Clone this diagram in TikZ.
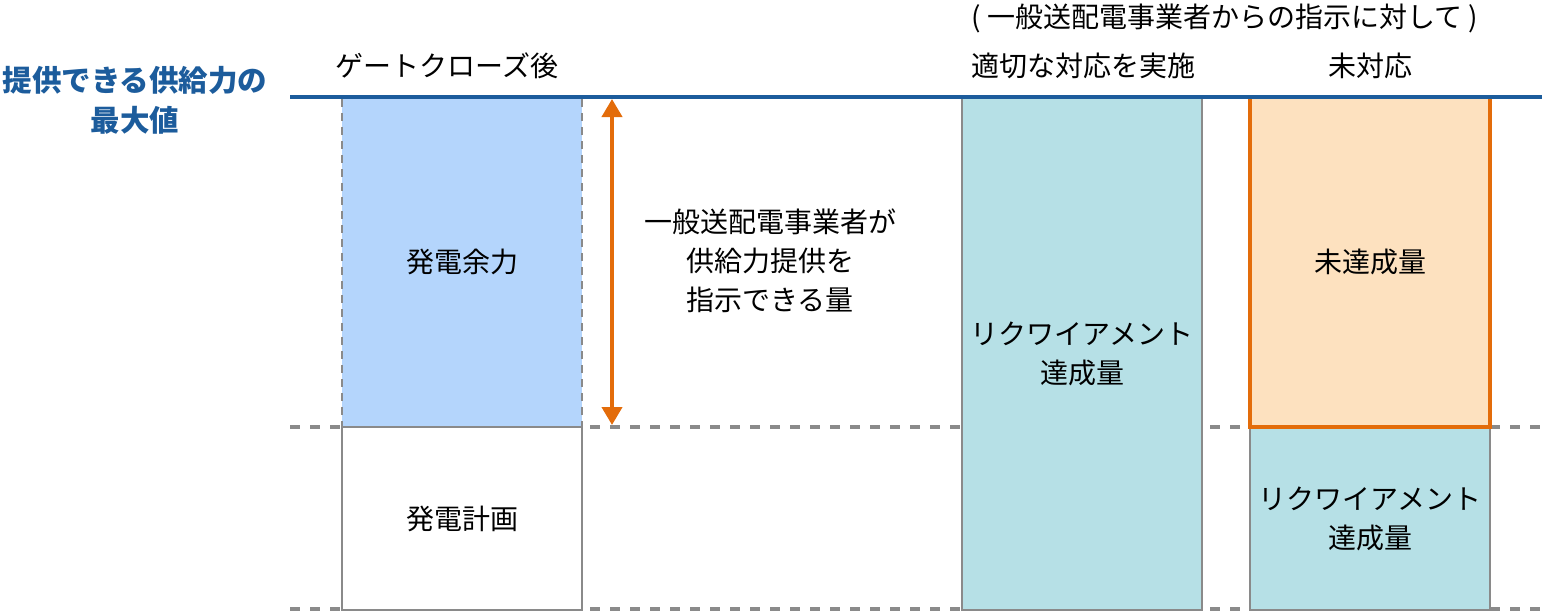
\documentclass[tikz,border=0pt]{standalone}
\usepackage{fontspec}
\setmainfont{Noto Sans CJK JP}
\usepackage{xcolor}
\usepackage{tikz}
\usetikzlibrary{arrows.meta,positioning}

\definecolor{capblue}{HTML}{1C5C9C}
\definecolor{sparefill}{HTML}{B4D5FC}
\definecolor{reqfill}{HTML}{B6E0E6}
\definecolor{missfill}{HTML}{FDE1BF}
\definecolor{missline}{HTML}{E36C0A}
\definecolor{levelgray}{HTML}{8A8A8A}

\begin{document}
\begin{tikzpicture}[
  x=0.5pt, y=-0.5pt,
  font=\fontsize{14pt}{19.5pt}\selectfont,
  every node/.style={align=center},
  bar/.style={
    draw=levelgray, line width=1pt, inner sep=0pt,
    minimum width=120pt
  },
  spare/.style={bar, fill=sparefill, dash pattern=on 4pt off 3pt},
  plan/.style={bar, fill=white},
  req/.style={bar, fill=reqfill},
  miss/.style={bar, fill=missfill, draw=missline, line width=2pt},
  level/.style={draw=levelgray, line width=2pt, dash pattern=on 5pt off 5pt},
  capline/.style={draw=capblue, line width=2pt},
  arr/.style={{Triangle[length=9pt,width=10pt]}-{Triangle[length=9pt,width=10pt]},
    draw=missline, line width=2pt}
]
\useasboundingbox (0,0) rectangle (1542,612);

% reference levels
\coordinate (capL) at (290,97);
\coordinate (capR) at (1542,97);
\coordinate (midL) at (290,427);
\coordinate (midR) at (1542,427);
\coordinate (lowL) at (290,609);
\coordinate (lowR) at (1542,609);
\draw[level] (midL) -- (midR);
\draw[level] (lowL) -- (lowR);

% gate closure column
\node[spare, minimum height=165pt] (spare) at (462,262) {\raisebox{-2pt}{発電余力}};
\node[plan, minimum height=91.5pt] (plan) at (462,518.5) {発電計画};

% responded column
\node[req, minimum height=256.5pt] (reqA) at (1082,353.5) {リクワイアメント\\達成量};

% not responded column
\node[req, minimum height=91.5pt] (reqB) at (1370,518.5) {リクワイアメント\\達成量};
\node[miss, minimum height=165pt] (miss) at (1370,262) {\raisebox{-1.5pt}{未達成量}};

\draw[capline] (capL) -- (capR);

% headings
\node[font=\fontsize{14.75pt}{20pt}\selectfont\bfseries, text=capblue] (caplbl) at (135,100)
  {提供できる供給力の\\最大値};
\node (gcl) at (447,66) {ゲートクローズ後};
\node (instr) at (1225,18) {( 一般送配電事業者からの指示に対して )};
\node (done) at (1083,66) {適切な対応を実施};
\node (undone) at (1370,66) {未対応};

% instructable amount
\coordinate (arrtop) at (612,99);
\coordinate (arrbot) at (612,425);
\draw[arr] (arrtop) -- (arrbot);
\node (amount) at (770,261) {一般送配電事業者が\\供給力提供を\\指示できる量};

\end{tikzpicture}
\end{document}
